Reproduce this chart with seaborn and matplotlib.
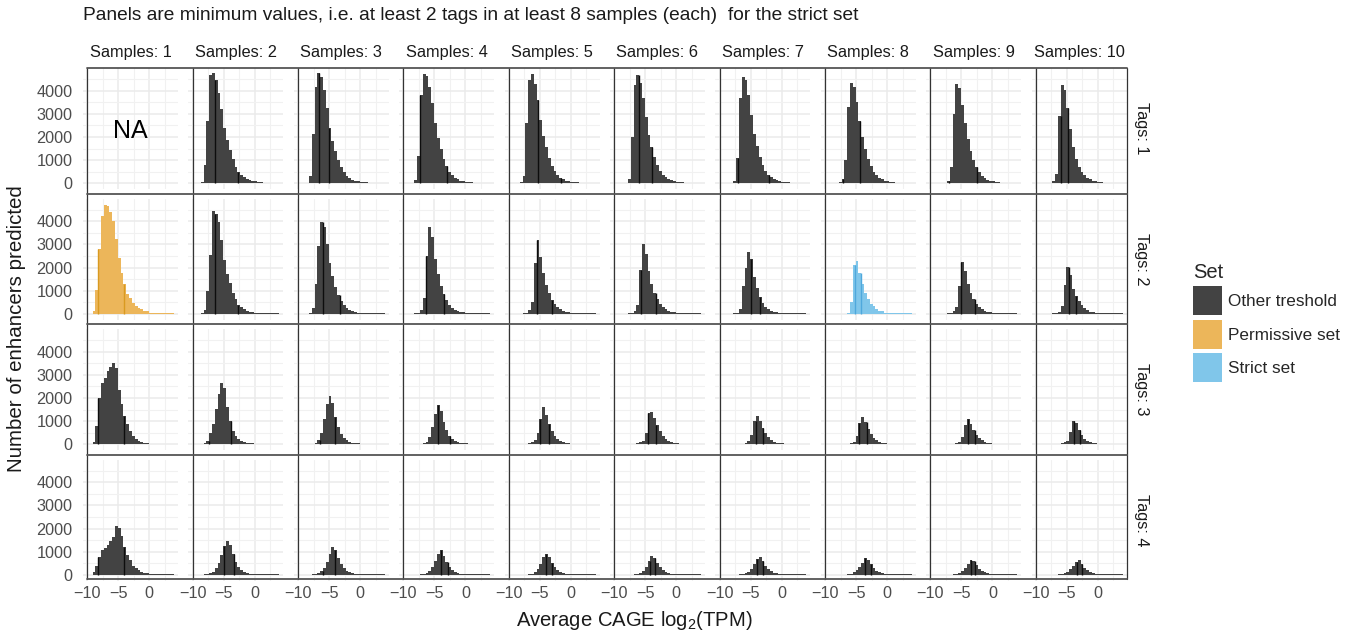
import numpy as np
import pandas as pd
import matplotlib
matplotlib.use("Agg")
import matplotlib.pyplot as plt
import seaborn as sns
from matplotlib.patches import Patch
from matplotlib.lines import Line2D
from matplotlib.ticker import FixedLocator

# ---------------------------------------------------------------- data
SAMPLES = list(range(1, 11))
TAGS = [1, 2, 3, 4]

# shared histogram binning of log2(TPM)
BIN_LO, BIN_HI, N_BINS = -9.6, 4.0, 30

# enhancer counts per bin, one list per "Samples" column (None = no panel data)
COUNTS_TAGS_1 = [
    None,
    [10, 20, 40, 800, 2700, 4700, 4760, 4450, 3900, 3200, 2400, 1850, 1430, 1050, 720, 480, 360, 260, 190, 140, 100, 80, 55, 40, 32, 30, 28, 26, 25, 24],
    [10, 15, 30, 300, 2150, 4150, 4750, 4580, 4030, 3240, 2370, 1840, 1400, 1000, 700, 480, 330, 230, 160, 110, 80, 60, 45, 36, 32, 30, 28, 26, 25, 24],
    [10, 12, 20, 150, 1200, 3800, 4730, 4620, 4150, 3450, 2600, 1950, 1480, 1060, 740, 500, 350, 240, 170, 120, 85, 60, 45, 36, 32, 30, 28, 26, 25, 24],
    [10, 10, 15, 40, 300, 2600, 4450, 4720, 4300, 3600, 2750, 2050, 1550, 1100, 760, 520, 360, 250, 175, 120, 85, 60, 45, 36, 32, 30, 28, 26, 25, 24],
    [10, 10, 12, 30, 200, 2000, 4250, 4680, 4350, 3700, 2850, 2100, 1580, 1120, 780, 530, 370, 255, 180, 125, 88, 62, 46, 36, 32, 30, 28, 26, 25, 24],
    [10, 10, 12, 20, 120, 1100, 3700, 4600, 4450, 3800, 2950, 2150, 1600, 1130, 790, 540, 375, 260, 180, 125, 88, 62, 46, 36, 32, 30, 28, 26, 25, 24],
    [10, 10, 12, 15, 40, 200, 1000, 3300, 4330, 4150, 3500, 2700, 2000, 1480, 1050, 730, 500, 345, 240, 165, 115, 80, 56, 40, 32, 30, 28, 26, 25, 24],
    [10, 10, 12, 15, 30, 120, 700, 3000, 4290, 4100, 3400, 2600, 1900, 1400, 1000, 700, 480, 330, 230, 160, 110, 78, 55, 40, 32, 30, 28, 26, 25, 24],
    [10, 10, 12, 15, 25, 90, 400, 2900, 4230, 4050, 3250, 2350, 1550, 1050, 720, 500, 350, 250, 175, 120, 85, 60, 43, 34, 30, 28, 26, 25, 24, 22],
]
COUNTS_TAGS_2 = [
    [10, 100, 1010, 2780, 4220, 4720, 4650, 4390, 4030, 3240, 2400, 1760, 1280, 860, 680, 475, 330, 260, 200, 115, 100, 40, 30, 28, 26, 25, 24, 22, 20, 18],
    [10, 12, 20, 150, 1000, 2560, 4450, 4290, 3960, 3200, 2330, 1700, 1320, 900, 620, 400, 280, 190, 130, 90, 62, 45, 36, 32, 30, 28, 26, 25, 24, 22],
    [10, 10, 12, 30, 250, 1300, 2950, 3950, 3730, 3000, 2200, 1620, 1150, 800, 540, 360, 250, 170, 115, 80, 56, 40, 34, 30, 28, 26, 25, 24, 22, 20],
    [10, 10, 12, 15, 50, 150, 700, 2500, 3730, 3300, 2350, 1700, 1200, 850, 580, 390, 265, 180, 122, 85, 60, 43, 34, 30, 28, 26, 25, 24, 22, 20],
    [10, 10, 10, 12, 20, 50, 150, 500, 2200, 3170, 2450, 1750, 1250, 880, 600, 410, 280, 190, 130, 88, 61, 43, 34, 30, 28, 26, 25, 24, 22, 20],
    [10, 10, 10, 12, 15, 40, 120, 400, 1900, 3000, 2600, 1850, 1300, 920, 630, 430, 290, 200, 135, 92, 63, 45, 34, 30, 28, 26, 25, 24, 22, 20],
    [10, 10, 10, 12, 15, 40, 200, 1180, 1990, 2650, 2380, 1610, 1120, 720, 470, 300, 200, 130, 85, 60, 45, 36, 32, 30, 28, 26, 25, 24, 22, 20],
    [10, 10, 10, 10, 10, 10, 12, 40, 500, 2090, 2300, 1760, 1270, 890, 650, 420, 330, 215, 100, 100, 30, 30, 30, 30, 30, 30, 30, 28, 26, 25],
    [10, 10, 10, 10, 12, 20, 50, 120, 300, 1200, 2220, 1850, 1300, 900, 620, 420, 285, 190, 130, 88, 60, 43, 34, 30, 28, 26, 25, 24, 22, 20],
    [10, 10, 10, 10, 12, 15, 35, 80, 350, 1240, 2030, 1670, 1090, 760, 550, 360, 230, 150, 95, 62, 44, 34, 30, 28, 26, 25, 24, 22, 20, 18],
]
COUNTS_TAGS_3 = [
    [10, 100, 790, 2020, 2650, 2850, 3170, 3340, 3510, 3310, 2330, 1730, 1220, 860, 575, 360, 215, 145, 85, 60, 55, 30, 28, 26, 25, 24, 22, 20, 18, 16],
    [10, 12, 20, 40, 150, 500, 870, 1510, 2160, 2650, 2450, 1610, 1000, 580, 360, 220, 140, 90, 60, 45, 36, 32, 30, 28, 26, 25, 24, 22, 20, 18],
    [10, 10, 12, 15, 25, 60, 180, 500, 1100, 1750, 2090, 1800, 1200, 750, 450, 280, 180, 115, 75, 50, 38, 32, 30, 28, 26, 25, 24, 22, 20, 18],
    [10, 10, 10, 12, 15, 25, 50, 120, 300, 750, 1300, 1700, 1450, 950, 600, 380, 240, 155, 100, 65, 45, 36, 32, 30, 28, 26, 25, 24, 22, 20],
    [10, 10, 10, 10, 12, 20, 35, 80, 200, 500, 1100, 1610, 1250, 880, 570, 360, 230, 150, 95, 62, 43, 34, 30, 28, 26, 25, 24, 22, 20, 18],
    [10, 10, 10, 10, 12, 15, 20, 40, 80, 160, 500, 1370, 1400, 1150, 830, 560, 360, 230, 145, 92, 60, 40, 32, 30, 28, 26, 25, 24, 22, 20],
    [10, 10, 10, 10, 10, 12, 16, 32, 64, 130, 400, 1000, 1220, 1000, 700, 470, 300, 190, 120, 76, 50, 36, 32, 30, 28, 26, 25, 24, 22, 20],
    [10, 10, 10, 10, 10, 12, 14, 28, 55, 110, 350, 900, 1170, 950, 660, 440, 280, 180, 112, 72, 48, 34, 30, 28, 26, 25, 24, 22, 20, 18],
    [10, 10, 10, 10, 10, 10, 12, 25, 50, 100, 300, 850, 1090, 880, 610, 410, 260, 165, 105, 68, 45, 34, 30, 28, 26, 25, 24, 22, 20, 18],
    [10, 10, 10, 10, 10, 10, 12, 20, 40, 80, 160, 550, 1010, 900, 620, 400, 250, 160, 100, 65, 43, 34, 30, 28, 26, 25, 24, 22, 20, 18],
]
COUNTS_TAGS_4 = [
    [10, 100, 360, 790, 1080, 1150, 1300, 1440, 1650, 2090, 2020, 1680, 1220, 860, 620, 390, 275, 190, 130, 70, 70, 30, 28, 26, 25, 24, 22, 20, 18, 16],
    [10, 10, 12, 15, 25, 60, 130, 280, 520, 850, 1250, 1480, 1300, 900, 560, 340, 210, 130, 85, 55, 38, 32, 30, 28, 26, 25, 24, 22, 20, 18],
    [10, 10, 10, 12, 15, 30, 70, 150, 300, 560, 900, 1180, 1050, 720, 450, 280, 170, 110, 70, 46, 34, 30, 28, 26, 25, 24, 22, 20, 18, 16],
    [10, 10, 10, 10, 12, 15, 35, 80, 170, 330, 600, 900, 1050, 820, 540, 340, 210, 130, 85, 55, 37, 32, 30, 28, 26, 25, 24, 22, 20, 18],
    [10, 10, 10, 10, 10, 12, 22, 50, 110, 230, 450, 750, 880, 760, 520, 330, 205, 128, 82, 53, 35, 30, 28, 26, 25, 24, 22, 20, 18, 16],
    [10, 10, 10, 10, 10, 12, 18, 40, 85, 180, 350, 600, 820, 720, 510, 330, 205, 128, 82, 53, 35, 30, 28, 26, 25, 24, 22, 20, 18, 16],
    [10, 10, 10, 10, 10, 10, 14, 30, 65, 130, 250, 450, 680, 790, 600, 400, 250, 155, 98, 63, 42, 32, 30, 28, 26, 25, 24, 22, 20, 18],
    [10, 10, 10, 10, 10, 10, 11, 24, 50, 100, 190, 340, 520, 705, 640, 450, 290, 180, 112, 72, 47, 32, 30, 28, 26, 25, 24, 22, 20, 18],
    [10, 10, 10, 10, 10, 10, 10, 22, 45, 90, 170, 300, 480, 660, 600, 420, 270, 170, 106, 68, 45, 32, 30, 28, 26, 25, 24, 22, 20, 18],
    [10, 10, 10, 10, 10, 10, 10, 18, 38, 75, 140, 250, 400, 560, 620, 470, 310, 195, 122, 78, 51, 34, 30, 28, 26, 25, 24, 22, 20, 18],
]

# reference marks (log2 TPM) drawn inside each histogram
MARKS_TAGS_1 = [None, (-6.34, -2.63), (-6.6, -4.95), (-7.26, -2.97), (-5.3, -1.56),
                (-6.0, -3.9), (-7.0, -2.0), (-7.06, -4.4), (-6.95, -2.55), (-6.0, -4.8)]
MARKS_TAGS_2 = [(-8.2, -4.1), (-6.34, -2.63), (-6.0, -3.3), (-6.3, -3.5), (-5.5, -3.0),
                (-5.7, -3.3), (-5.0, -3.5), (-5.2, -4.2), (-5.0, -2.8), (-4.7, -3.5)]
MARKS_TAGS_3 = [(-8.2, -4.0), (-7.4, -3.8), (-6.5, -4.0), (-4.5, -2.5), (-5.0, -3.5),
                (-4.5, -3.2), (-4.2, -3.0), (-4.5, -3.3), (-4.0, -2.8), (-3.9, -2.9)]
MARKS_TAGS_4 = [(-8.2, -4.0), (-5.0, -3.3), (-6.0, -4.0), (-4.0, -2.8), (-4.0, -3.0),
                (-4.2, -3.5), (-4.0, -3.0), (-3.5, -2.6), (-3.5, -2.9), (-3.3, -2.5)]

PERMISSIVE_PANEL = (2, 1)   # (tags, samples)
STRICT_PANEL = (2, 8)

SET_LABELS = ["Other treshold", "Permissive set", "Strict set"]
SET_COLORS = {"Other treshold": "#434343", "Permissive set": "#ECB65A", "Strict set": "#80C6EA"}
MARK_COLORS = {"Other treshold": "#0d0d0d", "Permissive set": "#D99A20", "Strict set": "#4FA8DC"}

X_TICKS = [-10, -5, 0]
X_MINOR = [-7.5, -2.5, 2.5]
Y_TICKS = [0, 1000, 2000, 3000, 4000]
Y_MINOR = [500, 1500, 2500, 3500, 4500]

TITLE = "Panels are minimum values, i.e. at least 2 tags in at least 8 samples (each)  for the strict set"

# ---------------------------------------------------------------- tidy table
edges = np.linspace(BIN_LO, BIN_HI, N_BINS + 1)
bin_edges = [float(e) for e in edges]
centers = (edges[:-1] + edges[1:]) / 2
count_rows = {1: COUNTS_TAGS_1, 2: COUNTS_TAGS_2, 3: COUNTS_TAGS_3, 4: COUNTS_TAGS_4}
mark_rows = {1: MARKS_TAGS_1, 2: MARKS_TAGS_2, 3: MARKS_TAGS_3, 4: MARKS_TAGS_4}

records = []
for t in TAGS:
    for s, counts in zip(SAMPLES, count_rows[t]):
        if counts is None:
            continue
        if (t, s) == PERMISSIVE_PANEL:
            set_name = "Permissive set"
        elif (t, s) == STRICT_PANEL:
            set_name = "Strict set"
        else:
            set_name = "Other treshold"
        for c, n in zip(centers, counts):
            records.append({"tags": t, "samples": s, "log2tpm": float(c), "n": float(n), "set": set_name})
df = pd.DataFrame(records)

# ---------------------------------------------------------------- style
sns.set_theme(style="white")
plt.rcParams["font.family"] = ["Liberation Sans", "DejaVu Sans"]
plt.rcParams["mathtext.fontset"] = "custom"
plt.rcParams["mathtext.rm"] = "Liberation Sans"
plt.rcParams["mathtext.it"] = "Liberation Sans:italic"

W, H = 1352, 633
fig = plt.figure(figsize=(W / 100, H / 100), dpi=100)
fig.patch.set_facecolor("white")

# panel grid in pixels
PX0, COL_STEP, PW = 83.0, 105.4, 95.0
PY0, ROW_STEP, PH = 68.0, 130.5, 121.0
XLIM = (-10.69, 4.63)
YLIM = (-246, 4981)

TICK_GRAY = "#4D4D4D"
GRID = "#EBEBEB"

axes = {}
for r, t in enumerate(TAGS):
    for c, s in enumerate(SAMPLES):
        left = PX0 + c * COL_STEP
        top = PY0 + r * ROW_STEP
        ax = fig.add_axes([left / W, 1 - (top + PH) / H, PW / W, PH / H])
        axes[(t, s)] = ax
        sub = df[(df.tags == t) & (df.samples == s)].reset_index(drop=True)
        if len(sub):
            set_name = sub["set"].iloc[0]
            sns.histplot(data=sub, x="log2tpm", weights="n", bins=bin_edges, ax=ax,
                         color=SET_COLORS[set_name], alpha=1, linewidth=0,
                         element="bars", stat="count")
            marks = mark_rows[t][c]
            if marks is not None:
                ns = sub["n"].to_numpy()
                for m in marks:
                    k = int(np.clip(np.searchsorted(edges, m) - 1, 0, N_BINS - 1))
                    ax.vlines(m, 0, ns[k], color=MARK_COLORS[set_name], lw=1.0, zorder=3)
        else:
            ax.text(-3.0, 2250, "NA", ha="center", va="center", fontsize=18, color="black")

        ax.set_xlim(*XLIM)
        ax.set_ylim(*YLIM)
        ax.set_xticks(X_TICKS)
        ax.xaxis.set_minor_locator(FixedLocator(X_MINOR))
        ax.set_yticks(Y_TICKS)
        ax.yaxis.set_minor_locator(FixedLocator(Y_MINOR))
        ax.grid(True, which="major", color=GRID, lw=1.1)
        ax.grid(True, which="minor", color="#F1F1F1", lw=0.8)
        ax.set_axisbelow(True)
        for sp in ax.spines.values():
            sp.set_visible(False)
        ax.tick_params(which="both", length=0)
        ax.set_xlabel("")
        ax.set_ylabel("")
        if r == len(TAGS) - 1:
            ax.set_xticklabels(["\u221210", "\u22125", "0"])
            ax.tick_params(axis="x", labelsize=11.7, labelcolor=TICK_GRAY, pad=4)
        else:
            ax.set_xticklabels([])
        if c == 0:
            ax.set_yticklabels([str(v) for v in Y_TICKS])
            ax.tick_params(axis="y", labelsize=11.7, labelcolor=TICK_GRAY, pad=7.5)
        else:
            ax.set_yticklabels([])
        ax.set_facecolor("none")

        if r == 0:
            fig.text((left + PW / 2) / W, 1 - 52 / H, f"Samples: {s}", ha="center",
                     va="center", fontsize=11.8, color="#1A1A1A")
        if c == len(SAMPLES) - 1:
            fig.text(1142 / W, 1 - (top + PH / 2) / H, f"Tags: {t}", ha="center",
                     va="center", rotation=270, fontsize=11.8, color="#1A1A1A")

# panel separators: vertical rules at x = -10 of every column, horizontal between rows
fig.canvas.draw()
first = axes[(TAGS[0], SAMPLES[0])]
last = axes[(TAGS[-1], SAMPLES[-1])]
y_top = first.get_position().y1
y_bot = last.get_position().y0 + 2.0 / H
x_left = first.transData.transform((-10, 0))[0] / W
x_right = last.get_position().x1
for s in SAMPLES:
    ax = axes[(TAGS[0], s)]
    xf = ax.transData.transform((-10, 0))[0] / W
    fig.add_artist(Line2D([xf, xf], [y_bot, y_top], transform=fig.transFigure,
                          color="#333333", lw=0.9))
fig.add_artist(Line2D([x_right, x_right], [y_bot, y_top], transform=fig.transFigure,
                      color="#333333", lw=0.9))
h_lines = [y_top, y_bot]
for t_a, t_b in zip(TAGS[:-1], TAGS[1:]):
    ya = axes[(t_a, SAMPLES[0])].get_position().y0
    yb = axes[(t_b, SAMPLES[0])].get_position().y1
    h_lines.append((ya + yb) / 2)
for yf in h_lines:
    fig.add_artist(Line2D([x_left, x_right], [yf, yf], transform=fig.transFigure,
                          color="#555555", lw=1.3))

# titles
fig.text(PX0 / W, 1 - 15 / H, TITLE, ha="left", va="center", fontsize=13.8, color="#1A1A1A")
fig.text(634 / W, 1 - 620 / H, r"Average CAGE log$_2$(TPM)", ha="center", va="center",
         fontsize=14.6, color="#1A1A1A")
fig.text(17 / W, 1 - 329 / H, "Number of enhancers predicted", ha="center", va="center",
         rotation=90, fontsize=14.8, color="#1A1A1A")

# legend
handles = [Patch(facecolor=SET_COLORS[k], edgecolor="none", label=k) for k in SET_LABELS]
leg = fig.legend(handles=handles, loc="upper left", bbox_to_anchor=(1193 / W, 1 - 263 / H),
                 frameon=False, title="Set", title_fontsize=14.5, fontsize=12.3,
                 handlelength=1.7, handleheight=2.23, labelspacing=0.26, handletextpad=0.35,
                 borderpad=0, borderaxespad=0, alignment="left")

fig.savefig("out.png", dpi=100, facecolor="white")
